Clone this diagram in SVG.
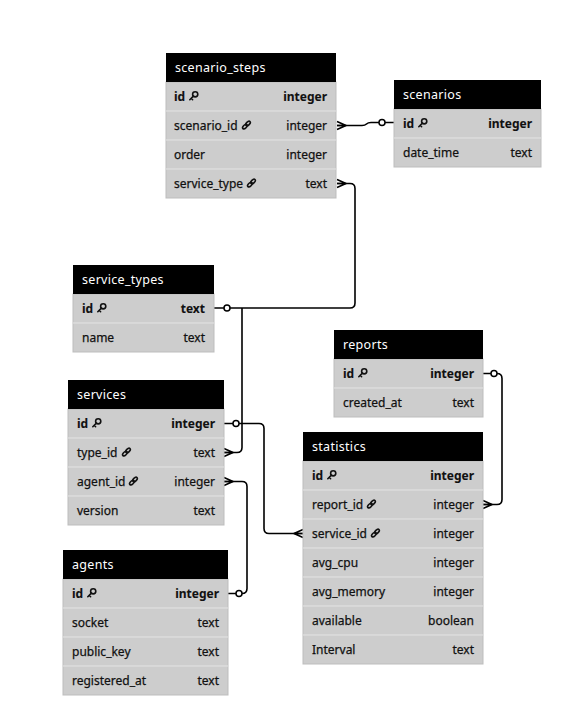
<svg xmlns="http://www.w3.org/2000/svg" xmlns:xlink="http://www.w3.org/1999/xlink" width="572" height="724" viewBox="0 0 572 724">
<style>
.hd{fill:#000}
.bd{fill:#cdcdcd;stroke:#bdbdbd;stroke-width:1}
.sep{stroke:#e4e4e4;stroke-width:1}
.tt{font-family:"Noto Sans","Open Sans",sans-serif;font-size:12.5px;fill:#fff;letter-spacing:0.3px}
.f{font-family:"Noto Sans","Open Sans",sans-serif;font-size:12px;fill:#111;stroke:#111;stroke-width:0.25px}
.b{font-weight:bold;stroke-width:0.1px}
.r{text-anchor:end}
.ic{fill:none;stroke:#111;stroke-width:1.6;stroke-linecap:round}
.cn{fill:none;stroke:#000;stroke-width:1.6;stroke-linejoin:round}
.ci{fill:#fff;stroke:#000;stroke-width:1.5}
</style>
<defs>
<g id="key"><circle class="ic" cx="6.2" cy="-6.2" r="2.6"/><path class="ic" d="M4.4,-4.4 L0.8,-0.8 M2.2,-2.2 L3.6,-0.8"/></g>
<g id="link"><ellipse class="ic" cx="2.9" cy="-2.9" rx="2.8" ry="1.6" transform="rotate(-45 2.9 -2.9)"/><ellipse class="ic" cx="6" cy="-6" rx="2.8" ry="1.6" transform="rotate(-45 6 -6)"/></g>
</defs>
<rect width="572" height="724" fill="#fff"/>

<g id="connectors">
<path class="cn" d="M337,125.5 H362 Q365,125.5 366.5,124 Q368,122.5 371,122.5 H394"/>
<path class="cn" d="M337,121.5 L346,125.5 L337,129.5 M337,125.5 H346"/>
<circle class="ci" cx="382" cy="122.5" r="3"/>

<path class="cn" d="M337,183.5 H350 Q355,183.5 355,188.5 V303 Q355,308 350,308 H214"/>
<path class="cn" d="M337,179.5 L346,183.5 L337,187.5 M337,183.5 H346"/>
<circle class="ci" cx="227" cy="308" r="3"/>

<path class="cn" d="M242,308 V447.5 Q242,452.5 237,452.5 H224"/>
<path class="cn" d="M224,448.5 L233,452.5 L224,456.5 M224,452.5 H233"/>

<path class="cn" d="M224,423.5 H259 Q264,423.5 264,428.5 V528.5 Q264,533.5 269,533.5 H303"/>
<path class="cn" d="M303,529.5 L294,533.5 L303,537.5 M303,533.5 H294"/>
<circle class="ci" cx="236" cy="423.5" r="3"/>

<path class="cn" d="M224,481.5 H242 Q247,481.5 247,486.5 V588.5 Q247,593.5 242,593.5 H228"/>
<path class="cn" d="M224,477.5 L233,481.5 L224,485.5 M224,481.5 H233"/>
<circle class="ci" cx="239" cy="593.5" r="3"/>

<path class="cn" d="M483,373.5 H497 Q502,373.5 502,378.5 V499.5 Q502,504.5 497,504.5 H483"/>
<path class="cn" d="M483,500.5 L492,504.5 L483,508.5 M483,504.5 H492"/>
<circle class="ci" cx="494" cy="373.5" r="3"/>
</g>

<g id="scenario_steps" transform="translate(166,53)">
<rect class="bd" x="0" y="29" width="170" height="116"/>
<rect class="hd" x="0" y="0" width="170" height="29"/>
<path class="sep" d="M0,58H170M0,87H170M0,116H170"/>
<text class="tt" x="9" y="19">scenario_steps</text>
<text class="f b" x="8" y="47.5">id</text><use xlink:href="#key" x="23" y="47.5"/><text class="f b r" x="161" y="47.5">integer</text>
<text class="f" x="8" y="76.5">scenario_id</text><use xlink:href="#link" x="76" y="76.5"/><text class="f r" x="161" y="76.5">integer</text>
<text class="f" x="8" y="105.5">order</text><text class="f r" x="161" y="105.5">integer</text>
<text class="f" x="8" y="134.5">service_type</text><use xlink:href="#link" x="81" y="134.5"/><text class="f r" x="161" y="134.5">text</text>
</g>

<g id="scenarios" transform="translate(394,80)">
<rect class="bd" x="0" y="29" width="147" height="58"/>
<rect class="hd" x="0" y="0" width="147" height="29"/>
<path class="sep" d="M0,58H147"/>
<text class="tt" x="9" y="19">scenarios</text>
<text class="f b" x="9" y="47.5">id</text><use xlink:href="#key" x="24" y="47.5"/><text class="f b r" x="138" y="47.5">integer</text>
<text class="f" x="9" y="76.5">date_time</text><text class="f r" x="138" y="76.5">text</text>
</g>

<g id="service_types" transform="translate(73,265)">
<rect class="bd" x="0" y="29" width="141" height="58"/>
<rect class="hd" x="0" y="0" width="141" height="29"/>
<path class="sep" d="M0,58H141"/>
<text class="tt" x="9" y="19">service_types</text>
<text class="f b" x="9" y="47.5">id</text><use xlink:href="#key" x="24" y="47.5"/><text class="f b r" x="132" y="47.5">text</text>
<text class="f" x="9" y="76.5">name</text><text class="f r" x="132" y="76.5">text</text>
</g>

<g id="services" transform="translate(68,380)">
<rect class="bd" x="0" y="29" width="156" height="116"/>
<rect class="hd" x="0" y="0" width="156" height="29"/>
<path class="sep" d="M0,58H156M0,87H156M0,116H156"/>
<text class="tt" x="9" y="19">services</text>
<text class="f b" x="9" y="47.5">id</text><use xlink:href="#key" x="24" y="47.5"/><text class="f b r" x="147" y="47.5">integer</text>
<text class="f" x="9" y="76.5">type_id</text><use xlink:href="#link" x="54" y="76.5"/><text class="f r" x="147" y="76.5">text</text>
<text class="f" x="9" y="105.5">agent_id</text><use xlink:href="#link" x="61" y="105.5"/><text class="f r" x="147" y="105.5">integer</text>
<text class="f" x="9" y="134.5">version</text><text class="f r" x="147" y="134.5">text</text>
</g>

<g id="agents" transform="translate(63,550)">
<rect class="bd" x="0" y="29" width="165" height="116"/>
<rect class="hd" x="0" y="0" width="165" height="29"/>
<path class="sep" d="M0,58H165M0,87H165M0,116H165"/>
<text class="tt" x="9" y="19">agents</text>
<text class="f b" x="9" y="47.5">id</text><use xlink:href="#key" x="24" y="47.5"/><text class="f b r" x="156" y="47.5">integer</text>
<text class="f" x="9" y="76.5">socket</text><text class="f r" x="156" y="76.5">text</text>
<text class="f" x="9" y="105.5">public_key</text><text class="f r" x="156" y="105.5">text</text>
<text class="f" x="9" y="134.5">registered_at</text><text class="f r" x="156" y="134.5">text</text>
</g>

<g id="reports" transform="translate(334,330)">
<rect class="bd" x="0" y="29" width="149" height="58"/>
<rect class="hd" x="0" y="0" width="149" height="29"/>
<path class="sep" d="M0,58H149"/>
<text class="tt" x="9" y="19">reports</text>
<text class="f b" x="9" y="47.5">id</text><use xlink:href="#key" x="24" y="47.5"/><text class="f b r" x="140" y="47.5">integer</text>
<text class="f" x="9" y="76.5">created_at</text><text class="f r" x="140" y="76.5">text</text>
</g>

<g id="statistics" transform="translate(303,432)">
<rect class="bd" x="0" y="29" width="180" height="203"/>
<rect class="hd" x="0" y="0" width="180" height="29"/>
<path class="sep" d="M0,58H180M0,87H180M0,116H180M0,145H180M0,174H180M0,203H180"/>
<text class="tt" x="9" y="19">statistics</text>
<text class="f b" x="9" y="47.5">id</text><use xlink:href="#key" x="24" y="47.5"/><text class="f b r" x="171" y="47.5">integer</text>
<text class="f" x="9" y="76.5">report_id</text><use xlink:href="#link" x="64" y="76.5"/><text class="f r" x="171" y="76.5">integer</text>
<text class="f" x="9" y="105.5">service_id</text><use xlink:href="#link" x="68" y="105.5"/><text class="f r" x="171" y="105.5">integer</text>
<text class="f" x="9" y="134.5">avg_cpu</text><text class="f r" x="171" y="134.5">integer</text>
<text class="f" x="9" y="163.5">avg_memory</text><text class="f r" x="171" y="163.5">integer</text>
<text class="f" x="9" y="192.5">available</text><text class="f r" x="171" y="192.5">boolean</text>
<text class="f" x="9" y="221.5">Interval</text><text class="f r" x="171" y="221.5">text</text>
</g>
</svg>
